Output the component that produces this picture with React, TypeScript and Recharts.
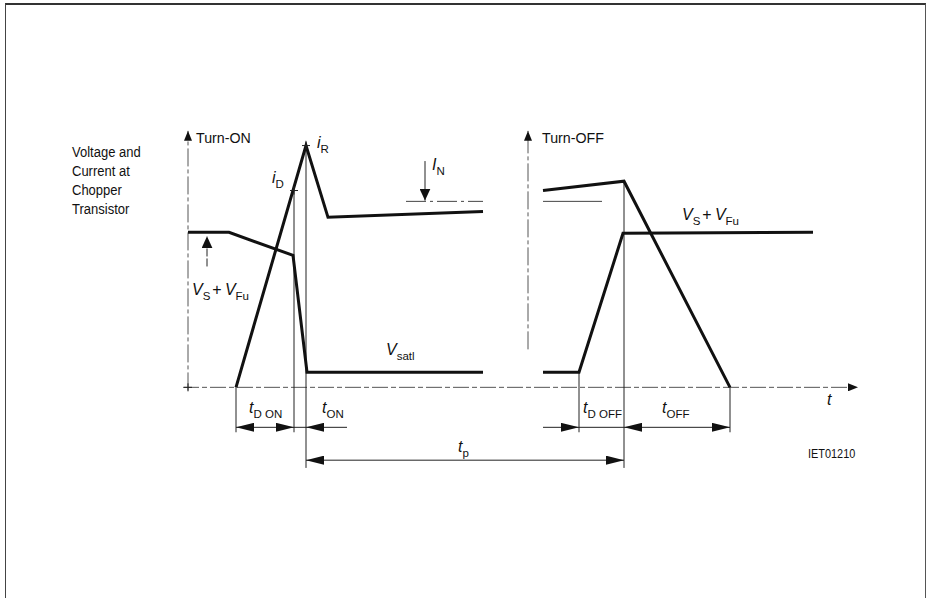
import React from "react";
import { ComposedChart, Line, XAxis, YAxis, ReferenceLine, ReferenceDot } from "recharts";

// time axis units (t) and level units (v); baseline v = 0
const voltageOn = [
  { t: 0, v: 100 },
  { t: 8.2, v: 100 },
  { t: 21, v: 85.2 },
  { t: 23.8, v: 9.7 },
  { t: 59, v: 9.7 },
];
const currentOn = [
  { t: 9.6, v: 0 },
  { t: 23.6, v: 156 },
  { t: 28, v: 109.7 },
  { t: 59, v: 113.5 },
];
const voltageOff = [
  { t: 71, v: 9.7 },
  { t: 78.2, v: 9.7 },
  { t: 87, v: 99.4 },
  { t: 125, v: 100 },
];
const currentOff = [
  { t: 71, v: 127 },
  { t: 87.2, v: 133 },
  { t: 108.4, v: 0 },
];
// key instants
const tOnAxis = 0;
const tOffAxis = 68;
const tDonStart = 9.6;
const tDonEnd = 21.2;
const tPeak = 23.6;
const tDoffStart = 78.2;
const tSwitchOff = 87.2;
const tOffEnd = 108.4;
const levelIN = 120;
const levelPeak = 156;
const levelID = 127;
const levelVS = 100;
const levelVsat = 9.7;
const dimRow1 = -25.8;
const dimRow2 = -47;

const FONT = "'Liberation Sans', Arial, sans-serif";
const INK = "#111";

type P = any;

const seg =
  (opts: { dash?: string; width?: number; color?: string; start?: string; end?: string }) =>
  (p: P) =>
    (
      <line
        x1={p.x1}
        y1={p.y1}
        x2={p.x2}
        y2={p.y2}
        stroke={opts.color || "#222"}
        strokeWidth={opts.width || 1}
        strokeDasharray={opts.dash}
        markerStart={opts.start ? `url(#${opts.start})` : undefined}
        markerEnd={opts.end ? `url(#${opts.end})` : undefined}
      />
    );

const sym =
  (parts: Array<[string, "i" | "s" | "n"]>, size = 16) =>
  (p: P) => {
    let lvl = 0;
    return (
      <text x={p.cx} y={p.cy} fontFamily={FONT} fontSize={size} fill={INK}>
        {parts.map(([txt, kind], k) => {
          const target = kind === "s" ? 1 : 0;
          const dy = target === lvl ? 0 : target === 1 ? 5 : -5;
          lvl = target;
          return (
            <tspan
              key={k}
              dy={dy}
              dx={kind === "n" ? 2 : 0}
              fontStyle={kind === "i" ? "italic" : "normal"}
              fontSize={kind === "s" ? size * 0.72 : size}
            >
              {txt}
            </tspan>
          );
        })}
      </text>
    );
  };

const plain =
  (txt: string, size = 15.5, sx = 1) =>
  (p: P) =>
    (
      <text
        transform={`translate(${p.cx},${p.cy}) scale(${sx},1)`}
        x={0}
        y={0}
        fontFamily={FONT}
        fontSize={size}
        fill={INK}
      >
        {txt}
      </text>
    );

const cross = (p: P) => (
  <g stroke="#222" strokeWidth={1}>
    <line x1={p.cx - 4} y1={p.cy} x2={p.cx + 4} y2={p.cy} />
    <line x1={p.cx} y1={p.cy - 4} x2={p.cx} y2={p.cy + 4} />
  </g>
);

const vsLabel: Array<[string, "i" | "s" | "n"]> = [
  ["V", "i"], ["S", "s"], ["+\u2009", "n"], ["V", "i"], ["Fu", "s"],
];

export default function App() {
  return (
    <div style={{ position: "relative", width: 929, height: 598, overflow: "hidden", background: "#fff" }}>
      <style>{`body{margin:0;background:#fff}`}</style>
      <div
        style={{
          position: "absolute",
          left: 5,
          top: 3,
          width: 919,
          height: 620,
          borderTop: "2px solid #333",
          borderLeft: "1px solid #444",
          borderRight: "1px solid #555",
        }}
      />
      <svg width={0} height={0} style={{ position: "absolute" }}>
        <defs>
          <marker id="dimA" viewBox="0 0 18 9" refX={18} refY={4.5} markerWidth={18} markerHeight={9}
            markerUnits="userSpaceOnUse" orient="auto-start-reverse">
            <path d="M0,0 L18,4.5 L0,9 z" fill={INK} />
          </marker>
          <marker id="axA" viewBox="0 0 10 8" refX={10} refY={4} markerWidth={10} markerHeight={8}
            markerUnits="userSpaceOnUse" orient="auto-start-reverse">
            <path d="M0,0 L10,4 L0,8 z" fill={INK} />
          </marker>
          <marker id="bigA" viewBox="0 0 12 11" refX={12} refY={5.5} markerWidth={12} markerHeight={11}
            markerUnits="userSpaceOnUse" orient="auto-start-reverse">
            <path d="M0,0 L12,5.5 L0,11 z" fill={INK} />
          </marker>
        </defs>
      </svg>
      <div style={{ position: "absolute", left: 0, top: 0 }}>
        <ComposedChart width={929} height={598} margin={{ top: 3, right: 1, bottom: 3, left: 8 }}>
          <XAxis type="number" dataKey="t" domain={[-36, 148]} hide allowDataOverflow />
          <YAxis type="number" dataKey="v" domain={[-134, 248]} hide allowDataOverflow />

          {/* axes */}
          <ReferenceLine segment={[{ x: -1, y: 0 }, { x: 134, y: 0 }]}
            shape={seg({ dash: "16 3 5 3", color: "#555", end: "axA" })} />
          <ReferenceLine segment={[{ x: tOnAxis, y: -2 }, { x: tOnAxis, y: 165.5 }]}
            shape={seg({ dash: "18 3 4 3", color: "#555", end: "axA" })} />
          <ReferenceLine segment={[{ x: tOffAxis, y: 24.5 }, { x: tOffAxis, y: 165.5 }]}
            shape={seg({ dash: "18 3 4 3", color: "#555", end: "axA" })} />

          {/* extension lines */}
          <ReferenceLine segment={[{ x: tDonStart, y: 0 }, { x: tDonStart, y: -29 }]} shape={seg({})} />
          <ReferenceLine segment={[{ x: tDonEnd, y: levelID }, { x: tDonEnd, y: -29 }]} shape={seg({})} />
          <ReferenceLine segment={[{ x: tPeak, y: levelPeak }, { x: tPeak, y: -52 }]} shape={seg({})} />
          <ReferenceLine segment={[{ x: tDoffStart, y: levelVsat }, { x: tDoffStart, y: -29 }]} shape={seg({})} />
          <ReferenceLine segment={[{ x: tSwitchOff, y: 133 }, { x: tSwitchOff, y: -52 }]} shape={seg({})} />
          <ReferenceLine segment={[{ x: tOffEnd, y: 0 }, { x: tOffEnd, y: -29 }]} shape={seg({})} />

          {/* I_N reference */}
          <ReferenceLine segment={[{ x: 43.6, y: levelIN }, { x: 59, y: levelIN }]}
            shape={seg({ dash: "20 4 3 4", color: "#444" })} />
          <ReferenceLine segment={[{ x: 71, y: levelIN }, { x: 82.8, y: levelIN }]} shape={seg({ color: "#444" })} />
          <ReferenceLine segment={[{ x: 47.4, y: 146 }, { x: 47.4, y: levelIN + 0.5 }]} shape={seg({ end: "bigA" })} />
          {/* V_S + V_Fu arrow */}
          <ReferenceLine segment={[{ x: 3.8, y: 78 }, { x: 3.8, y: levelVS - 2.5 }]}
            shape={seg({ dash: "8 2", end: "bigA" })} />

          {/* dimension lines */}
          <ReferenceLine segment={[{ x: tDonStart, y: dimRow1 }, { x: tDonEnd, y: dimRow1 }]}
            shape={seg({ start: "dimA", end: "dimA" })} />
          <ReferenceLine segment={[{ x: tDonEnd, y: dimRow1 }, { x: tPeak, y: dimRow1 }]} shape={seg({})} />
          <ReferenceLine segment={[{ x: tPeak, y: dimRow1 }, { x: 31.8, y: dimRow1 }]}
            shape={seg({ start: "dimA" })} />
          <ReferenceLine segment={[{ x: 71, y: dimRow1 }, { x: tDoffStart, y: dimRow1 }]}
            shape={seg({ end: "dimA" })} />
          <ReferenceLine segment={[{ x: tDoffStart, y: dimRow1 }, { x: tSwitchOff, y: dimRow1 }]} shape={seg({})} />
          <ReferenceLine segment={[{ x: tSwitchOff, y: dimRow1 }, { x: tOffEnd, y: dimRow1 }]}
            shape={seg({ start: "dimA", end: "dimA" })} />
          <ReferenceLine segment={[{ x: tPeak, y: dimRow2 }, { x: tSwitchOff, y: dimRow2 }]}
            shape={seg({ start: "dimA", end: "dimA" })} />

          {/* waveforms */}
          <Line data={voltageOn} dataKey="v" type="linear" stroke={INK} strokeWidth={3} dot={false}
            isAnimationActive={false} strokeLinejoin="miter" />
          <Line data={currentOn} dataKey="v" type="linear" stroke={INK} strokeWidth={3} dot={false}
            isAnimationActive={false} strokeLinejoin="miter" />
          <Line data={voltageOff} dataKey="v" type="linear" stroke={INK} strokeWidth={3} dot={false}
            isAnimationActive={false} strokeLinejoin="miter" />
          <Line data={currentOff} dataKey="v" type="linear" stroke={INK} strokeWidth={3} dot={false}
            isAnimationActive={false} strokeLinejoin="miter" />

          {/* markers */}
          <ReferenceDot x={tPeak} y={levelPeak} r={0} shape={cross} />
          <ReferenceDot x={tDonEnd} y={levelID} r={0} shape={cross} />
          <ReferenceDot x={tOnAxis} y={0} r={0} shape={cross} />

          {/* texts */}
          <ReferenceDot x={-23.2} y={148.4} r={0} shape={plain("Voltage and", 15.5, 0.84)} />
          <ReferenceDot x={-23.2} y={136.1} r={0} shape={plain("Current at", 15.5, 0.84)} />
          <ReferenceDot x={-23.2} y={123.9} r={0} shape={plain("Chopper", 15.5, 0.84)} />
          <ReferenceDot x={-23.2} y={111.6} r={0} shape={plain("Transistor", 15.5, 0.84)} />
          <ReferenceDot x={1.6} y={157.4} r={0} shape={plain("Turn-ON", 15, 0.95)} />
          <ReferenceDot x={70.8} y={157.4} r={0} shape={plain("Turn-OFF", 15, 0.95)} />
          <ReferenceDot x={25.8} y={154.2} r={0} shape={sym([["i", "i"], ["R", "s"]])} />
          <ReferenceDot x={16.8} y={131.6} r={0} shape={sym([["i", "i"], ["D", "s"]])} />
          <ReferenceDot x={48.8} y={140} r={0} shape={sym([["I", "i"], ["N", "s"]])} />
          <ReferenceDot x={0.8} y={59.4} r={0} shape={sym(vsLabel)} />
          <ReferenceDot x={98.8} y={107.7} r={0} shape={sym(vsLabel)} />
          <ReferenceDot x={39.6} y={20.6} r={0} shape={sym([["V", "i"], ["satl", "s"]])} />
          <ReferenceDot x={127.8} y={-11.6} r={0} shape={sym([["t", "i"]])} />
          <ReferenceDot x={12.2} y={-16.8} r={0} shape={sym([["t", "i"], ["D ON", "s"]])} />
          <ReferenceDot x={26.8} y={-16.8} r={0} shape={sym([["t", "i"], ["ON", "s"]])} />
          <ReferenceDot x={79} y={-16.8} r={0} shape={sym([["t", "i"], ["D OFF", "s"]])} />
          <ReferenceDot x={94.8} y={-16.8} r={0} shape={sym([["t", "i"], ["OFF", "s"]])} />
          <ReferenceDot x={54} y={-42} r={0} shape={sym([["t", "i"], ["p", "s"]])} />
          <ReferenceDot x={124} y={-45.8} r={0} shape={plain("IET01210", 13, 0.84)} />
        </ComposedChart>
      </div>
    </div>
  );
}
